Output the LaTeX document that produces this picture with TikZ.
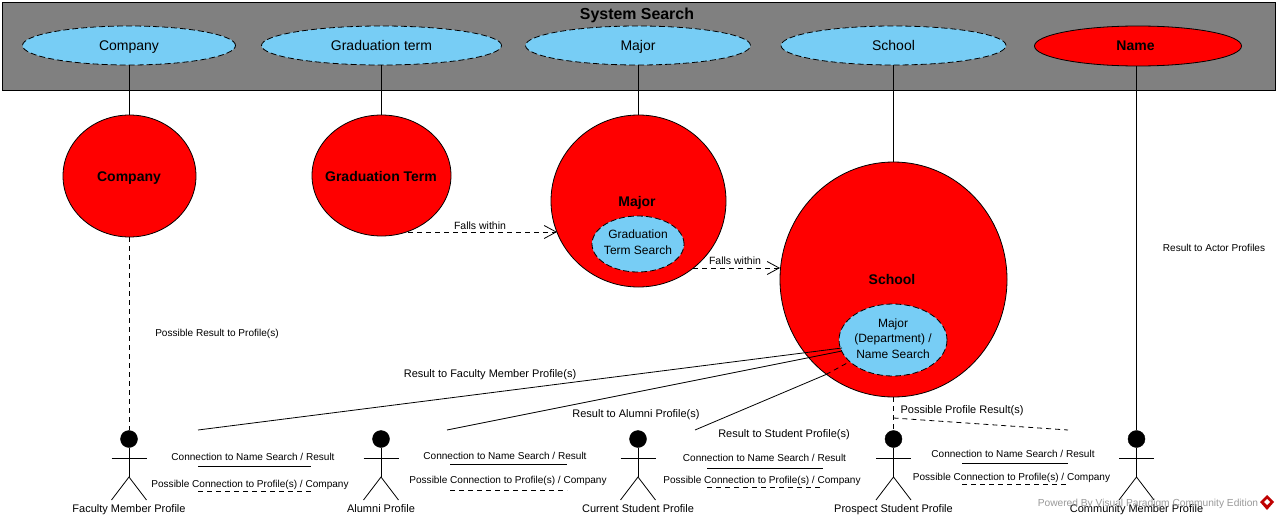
\documentclass[tikz,border=0pt]{standalone}
\usepackage{fontspec}
\setmainfont{Liberation Sans}
\usetikzlibrary{shapes.geometric,arrows.meta}
\definecolor{skyb}{HTML}{77CDF5}
\definecolor{boxg}{HTML}{808080}
\definecolor{wm}{HTML}{9A9A9A}
\tikzset{
  x=1pt,y=-1pt,
  every node/.style={font=\fontsize{10.05}{13}\selectfont,inner sep=0pt,align=center,text height=10pt,text depth=2.2pt},
  conn/.style={draw=black,line width=0.8pt},
  dconn/.style={conn,dash pattern=on 5pt off 4pt},
  sky/.style={ellipse,draw=black,fill=skyb,line width=0.8pt,dash pattern=on 6pt off 3pt,font=\fontsize{14}{17}\selectfont,text height=13pt,text depth=3pt},
  skytext/.style={font=\fontsize{12}{15.6}\selectfont,text height=,text depth=},
  redel/.style={ellipse,draw=black,fill=red,line width=0.8pt},
  redtext/.style={font=\fontsize{14}{17}\selectfont\bfseries,text height=13pt,text depth=3pt},
  reslab/.style={font=\fontsize{11}{13}\selectfont,text height=11pt,text depth=2.5pt},
  actlab/.style={font=\fontsize{11}{13}\selectfont,text height=10.5pt,text depth=2.5pt},
  head/.style={circle,fill=black,draw=black,minimum size=17pt},
  limb/.style={draw=black,line width=0.8pt},
  opentip/.style={-{Straight Barb[length=12pt,width=13pt,line width=0.8pt]}},
}
\newcommand{\stick}[3]{%
  \node[head] (#1) at (#2,439) {};
  \coordinate (#1hip) at (#2,477);
  \draw[limb] (#1.south) -- (#1hip);
  \draw[limb] (#2-17.5,458) -- (#2+17.5,458);
  \draw[limb] (#2-17.5,500) -- (#1hip) -- (#2+17.5,500);
  \node[actlab] (#1lab) at (#2,508) {#3};
}
\begin{document}
\begin{tikzpicture}
\useasboundingbox (0,0) rectangle (1279,519);
\fill[white] (0,0) rectangle (1279,519);
% system box
\node[rectangle,draw=black,fill=boxg,line width=0.8pt,minimum width=1273pt,minimum height=88pt] (sys) at (638.5,46.5) {};
\node[font=\fontsize{15.9}{18}\selectfont\bfseries,text height=14pt,text depth=3pt] (systitle) at (637,14) {System Search};
% top use cases
\node[sky,minimum width=213pt,minimum height=39pt] (uCompany) at (129,45.5) {Company};
\node[sky,minimum width=240pt,minimum height=39pt] (uGrad) at (381.5,45.5) {Graduation term};
\node[sky,minimum width=225pt,minimum height=39pt] (uMajor) at (638,45.5) {Major};
\node[sky,minimum width=225pt,minimum height=39pt] (uSchool) at (893.5,45.5) {School};
\node[redel,minimum width=207pt,minimum height=40pt] (uName) at (1138,46) {};
\node[redtext] (tName) at (1135.5,45.5) {Name};
% red circles
\node[redel,minimum width=133pt,minimum height=122pt] (cCompany) at (129.5,176) {};
\node[redtext] (tCompany) at (129,176) {Company};
\node[redel,minimum width=139pt,minimum height=121pt] (cGrad) at (381.5,175.5) {};
\node[redtext] (tGrad) at (381,176) {Graduation Term};
\node[redel,minimum width=175pt,minimum height=172pt] (cMajor) at (638.5,201) {};
\node[redtext] (tMajor) at (637,201) {Major};
\node[sky,minimum width=92pt,minimum height=56pt] (iGrad) at (638,244) {};
\node[skytext] (tiGrad) at (638,242) {Graduation\\Term Search};
\node[redel,minimum width=227pt,minimum height=235pt] (cSchool) at (893.5,279.5) {};
\node[redtext] (tSchool) at (892,279) {School};
\node[sky,minimum width=108pt,minimum height=72pt] (iSchool) at (893,340) {};
\node[skytext] (tiSchool) at (893,338.5) {Major\\(Department) /\\Name Search};
% actors
\stick{aFac}{129}{Faculty Member Profile}
\stick{aAlu}{381}{Alumni Profile}
\stick{aCur}{638}{Current Student Profile}
\stick{aPro}{893.5}{Prospect Student Profile}
\stick{aCom}{1136.5}{Community Member Profile}
% top connectors
\draw[conn] (uCompany.south) -- (cCompany.north -| uCompany.south);
\draw[conn] (uGrad.south) -- (cGrad.north);
\draw[conn] (uMajor.south) -- (cMajor.north -| uMajor.south);
\draw[conn] (uSchool.south) -- (cSchool.north);
\draw[conn] (uName.south -| aCom.north) -- (aCom.north);
% falls within
\coordinate (f1s) at (408,232);
\coordinate (f1e) at (557,232);
\coordinate (f2s) at (693,268);
\coordinate (f2e) at (780,268);
\draw[dconn,opentip] (f1s) -- (f1e);
\draw[dconn,opentip] (f2s) -- (f2e);
\node[font=\fontsize{10.5}{13}\selectfont] (lF1) at (480,226) {Falls within};
\node[font=\fontsize{10.5}{13}\selectfont] (lF2) at (735,261) {Falls within};
% company dashed
\draw[dconn] (aFac.north |- cCompany.south) -- (aFac.north);
\node (lPR) at (217,332.5) {Possible Result to Profile(s)};
\node (lRA) at (1214,247.5) {Result to Actor Profiles};
% result lines
\coordinate (sFac) at (198,430);
\coordinate (eFac) at (842,348);
\coordinate (sAlu) at (447,430);
\coordinate (eAlu) at (842,351);
\coordinate (sCur) at (695,430);
\coordinate (mCur) at (826,374.5);
\coordinate (eCur) at (849,362);
\draw[conn] (sFac) -- (eFac);
\draw[conn] (sAlu) -- (eAlu);
\draw[conn] (sCur) -- (mCur);
\draw[dconn] (mCur) -- (eCur);
\node[reslab] (lR1) at (490,373) {Result to Faculty Member Profile(s)};
\node[reslab] (lR2) at (636,413) {Result to Alumni Profile(s)};
\node[reslab] (lR3) at (784,433) {Result to Student Profile(s)};
% possible profile
\coordinate (pJ) at (893.5,418);
\coordinate (pE) at (1068,430);
\draw[dconn] (cSchool.south) -- (pJ) -- (aPro.north);
\draw[dconn] (pJ) -- (pE);
\node[reslab] (lPP) at (962,409) {Possible Profile Result(s)};
% side connections
\newcommand{\sidepair}[8]{%
  \coordinate (#1a) at (#2,#4); \coordinate (#1b) at (#3,#4);
  \coordinate (#1c) at (#2,#5); \coordinate (#1d) at (#3,#5);
  \draw[conn] (#1a) -- (#1b);
  \draw[dconn] (#1c) -- (#1d);
  \node (#1t) at (#6,#7) {Connection to Name Search / Result};
  \node (#1u) at (#8) {Possible Connection to Profile(s) / Company};
}
\sidepair{sA}{198}{311}{466}{491}{253}{457}{250,484}
\sidepair{sB}{450}{567}{464}{490}{505}{456}{508,480}
\sidepair{sC}{707}{823}{468}{487}{764.5}{458}{762,480}
\sidepair{sD}{962}{1068}{463}{484}{1013}{454}{1011.5,477}
% watermark
\node[text=wm,font=\fontsize{10.2}{13}\selectfont] (wmark) at (1148,503) {Powered By Visual Paradigm Community Edition};
\fill[red!75!black] (1267,495) -- (1274,502) -- (1267,510) -- (1260,502) -- cycle;
\fill[white] (1267,499) -- (1270,502) -- (1267,505) -- (1264,502) -- cycle;
\end{tikzpicture}
\end{document}
